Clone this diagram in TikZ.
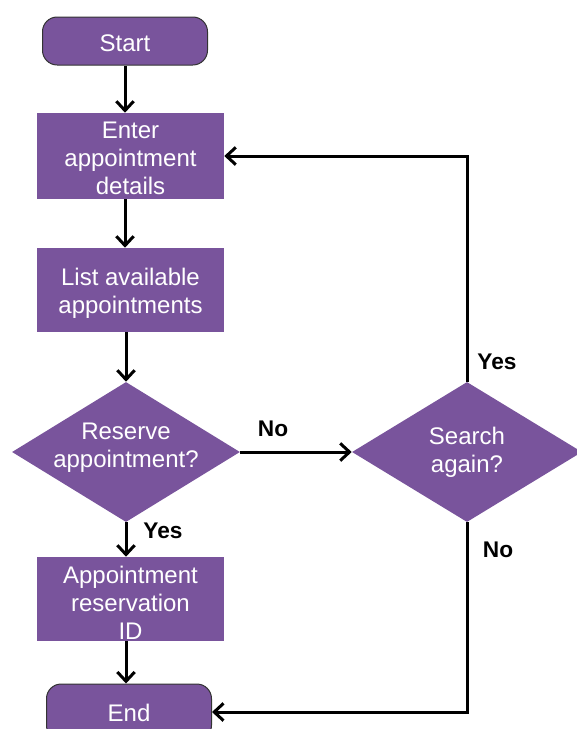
\documentclass[tikz,border=0pt]{standalone}
\usepackage{fontspec}
\setmainfont{Liberation Sans}
\usetikzlibrary{shapes.geometric,arrows.meta}
\definecolor{flowpurple}{RGB}{121,84,156}
\begin{document}
\begin{tikzpicture}[x=0.75pt,y=-0.75pt,
  txt/.style={text=white,font=\fontsize{18}{21}\selectfont,align=center,inner sep=0pt},
  terminal/.style={draw=black!80,line width=0.75pt,fill=flowpurple,
    rounded corners=11pt,minimum width=123.75pt,inner sep=0pt},
  proc/.style={fill=flowpurple,minimum width=140.25pt,minimum height=63pt,inner sep=0pt},
  decision/.style={diamond,fill=flowpurple,inner sep=0pt,minimum height=105pt},
  tag/.style={font=\fontsize{17}{20}\selectfont\bfseries,text=black},
  flow/.style={line width=2.25pt,-{Straight Barb[length=7pt,width=13pt]}}]
\useasboundingbox (0,0) rectangle (577,729);
\clip (0,0) rectangle (577,729);

% terminals
\node[terminal,minimum height=36pt] (start) at (125,41) {};
\node[txt] (starttxt) at (125,43.5) {Start};
\node[terminal,minimum height=42pt] (end) at (129,712) {};
\node[txt] (endtxt) at (129,712.5) {End};

% process boxes
\node[proc,minimum height=64.5pt] (enter) at (130.5,156) {};
\node[txt] (entertxt) at (130.5,158.5) {Enter\\appointment\\details};
\node[proc] (list) at (130.5,290) {};
\node[txt] (listtxt) at (130.5,293.5) {List available\\appointments};
\node[proc] (appt) at (130.5,599) {};
\node[txt] (appttxt) at (130.5,603) {Appointment\\reservation\\ID};

% decisions
\node[decision,minimum width=171pt] (d1) at (126,452) {};
\node[txt] (d1txt) at (126,447.5) {Reserve\\appointment?};
\node[decision,minimum width=172.5pt] (d2) at (467,452) {};
\node[txt] (d2txt) at (467,452.5) {Search\\again?};

% main spine
\draw[flow] (start.south) -- (start.south |- enter.north);
\draw[flow] (enter.south -| start) -- (list.north -| start);
\draw[flow] (list.south -| d1) -- (d1.north);
\draw[flow] (d1.south) -- (appt.north -| d1);
\draw[flow] (appt.south -| d1) -- (end.north -| d1);

% branches
\draw[flow] (d1.east) -- (d2.west);
\draw[flow] (d2.north) |- (enter.east);
\draw[flow] (d2.south) |- (end.east);

% branch labels
\node[tag] (noA) at (273,429) {No};
\node[tag] (yesA) at (163,531) {Yes};
\node[tag] (yesB) at (497,362) {Yes};
\node[tag] (noB) at (498,550) {No};
\end{tikzpicture}
\end{document}
